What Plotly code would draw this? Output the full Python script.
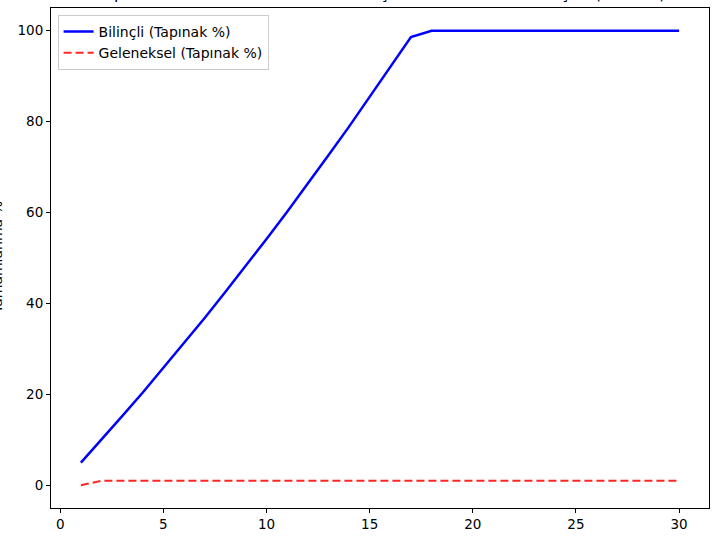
import plotly.graph_objects as go

# --- Datos ---
steps = list(range(1, 31))
bilincli = [5.0, 10.0, 15.2, 20.4, 25.8, 31.2, 36.8, 42.5, 48.3, 54.2,
            60.2, 66.3, 72.6, 78.9, 85.4, 91.9, 98.6, 100, 100, 100,
            100, 100, 100, 100, 100, 100, 100, 100, 100, 100]
geleneksel = [0] + [1] * 29

x_ticks = [0, 5, 10, 15, 20, 25, 30]
y_ticks = [0, 20, 40, 60, 80, 100]

FONT = "DejaVu Sans"

fig = go.Figure()

fig.add_trace(go.Scatter(
    x=steps, y=bilincli, mode="lines", name="Bilinçli (Tapınak %)",
    line=dict(color="#0000ff", width=2.5),
))
fig.add_trace(go.Scatter(
    x=steps, y=geleneksel, mode="lines", name="Geleneksel (Tapınak %)",
    line=dict(color="#ff0000", width=2, dash="8px,4px"), opacity=0.85,
))

axis_common = dict(
    showline=True, linecolor="black", linewidth=1, mirror=True,
    showgrid=False, zeroline=False,
    ticks="outside", ticklen=4, tickcolor="black", tickwidth=1,
    tickfont=dict(family=FONT, size=13.5, color="black"),
)

fig.update_xaxes(range=[-0.45, 31.45], tickvals=x_ticks, **axis_common)
fig.update_yaxes(range=[-5, 105], tickvals=y_ticks, **axis_common)

# Título y etiqueta del eje Y recortados en la imagen original
fig.add_annotation(
    text="Tapınak Tamamlanma Yüzdesi: Bilinçli ve Geleneksel Yaklaşım (30 Gün)",
    xref="paper", yref="paper", x=0.5, y=1.006, xanchor="center", yanchor="bottom",
    showarrow=False, font=dict(family=FONT, size=16, color="black"),
)
fig.add_annotation(
    text="Tamamlanma %", textangle=-90,
    xref="paper", yref="paper", x=-0.082, y=0.5, xanchor="center", yanchor="middle",
    showarrow=False, font=dict(family=FONT, size=14, color="black"),
)

fig.update_layout(
    width=720, height=539,
    margin=dict(l=51, r=11, t=7, b=30),
    paper_bgcolor="white", plot_bgcolor="white",
    showlegend=True,
    legend=dict(
        x=0.01, y=0.986, xanchor="left", yanchor="top",
        bgcolor="rgba(255,255,255,0.8)", bordercolor="#cccccc", borderwidth=1,
        font=dict(family=FONT, size=14, color="black"),
        tracegroupgap=0, itemwidth=30,
    ),
)

# quitar el margen del body para que la figura empiece en (0, 0)
fig.write_html(
    "out.html",
    config={"displayModeBar": False},
    post_script="document.body.style.margin='0';",
)
